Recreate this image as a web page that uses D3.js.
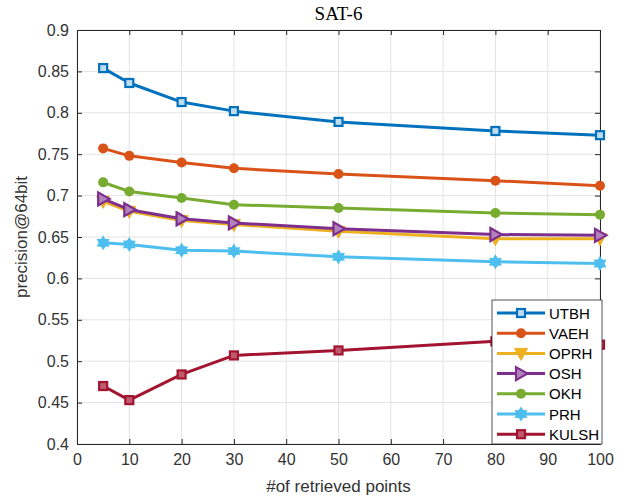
<!DOCTYPE html>
<html>
<head>
<meta charset="utf-8">
<script src="https://cdn.jsdelivr.net/npm/d3@7"></script>
<style>
  html, body { margin: 0; padding: 0; background: #fff; }
  svg { display: block; }
</style>
</head>
<body>
<div id="chart"></div>
<script>
// Retrieval precision on SAT-6 (64-bit codes) for several hashing methods
const retrieved = [5, 10, 20, 30, 50, 80, 100];
const utbh  = [0.854, 0.836, 0.813, 0.802, 0.789, 0.778, 0.773];
const vaeh  = [0.757, 0.748, 0.740, 0.733, 0.726, 0.718, 0.712];
const oprh  = [0.693, 0.681, 0.670, 0.665, 0.657, 0.648, 0.648];
const osh   = [0.696, 0.683, 0.672, 0.667, 0.660, 0.653, 0.652];
const okh   = [0.716, 0.705, 0.697, 0.689, 0.685, 0.679, 0.677];
const prh   = [0.643, 0.641, 0.634, 0.633, 0.626, 0.620, 0.618];
const kulsh = [0.470, 0.453, 0.484, 0.507, 0.513, 0.524, 0.520];
const xTicks = [0, 10, 20, 30, 40, 50, 60, 70, 80, 90, 100];
const yTicks = [0.4, 0.45, 0.5, 0.55, 0.6, 0.65, 0.7, 0.75, 0.8, 0.85, 0.9];

const series = [
  { name: "UTBH",  values: utbh,  color: "#0072BD", marker: "square" },
  { name: "VAEH",  values: vaeh,  color: "#D95319", marker: "circle" },
  { name: "OPRH",  values: oprh,  color: "#EDB120", marker: "triDown" },
  { name: "OSH",   values: osh,   color: "#7E2F8E", marker: "triRight" },
  { name: "OKH",   values: okh,   color: "#77AC30", marker: "circle" },
  { name: "PRH",   values: prh,   color: "#4DBEEE", marker: "hexagram" },
  { name: "KULSH", values: kulsh, color: "#A2142F", marker: "squareFilled" }
];

const W = 638, H = 498;
const m = { left: 77, right: 38, top: 30, bottom: 54 };
const svg = d3.select("#chart").append("svg").attr("width", W).attr("height", H);

const x = d3.scaleLinear().domain([0, 100]).range([m.left, W - m.right]);
const y = d3.scaleLinear().domain([0.4, 0.9]).range([H - m.bottom, m.top]);

const tickFont = "'Liberation Sans', Arial, Helvetica, sans-serif";

// grid
const grid = svg.append("g");
grid.selectAll("line.gx").data(xTicks).join("line")
  .attr("x1", d => x(d)).attr("x2", d => x(d))
  .attr("y1", y(0.4)).attr("y2", y(0.9))
  .attr("stroke", "#e3e3e3").attr("stroke-width", 1);
grid.selectAll("line.gy").data(yTicks).join("line")
  .attr("x1", x(0)).attr("x2", x(100))
  .attr("y1", d => y(d)).attr("y2", d => y(d))
  .attr("stroke", "#e3e3e3").attr("stroke-width", 1);

// axes (ticks pointing inward, box on all sides)
const axisColor = "#262626";
const styleAxis = g => {
  g.selectAll("path.domain").attr("stroke", axisColor);
  g.selectAll(".tick line").attr("stroke", axisColor);
  g.selectAll(".tick text").attr("fill", "#333")
    .style("font-family", tickFont).style("font-size", "16px");
};
svg.append("g").attr("transform", `translate(0,${y(0.4)})`)
  .call(d3.axisBottom(x).tickValues(xTicks).tickSizeInner(-5).tickSizeOuter(0).tickPadding(10).tickFormat(d3.format("d")))
  .call(styleAxis);
svg.append("g").attr("transform", `translate(0,${y(0.9)})`)
  .call(d3.axisTop(x).tickValues(xTicks).tickSizeInner(-5).tickSizeOuter(0).tickFormat(""))
  .call(styleAxis);
svg.append("g").attr("transform", `translate(${x(0)},0)`)
  .call(d3.axisLeft(y).tickValues(yTicks).tickSizeInner(-5).tickSizeOuter(0).tickPadding(8).tickFormat(d => d3.format("")(+d.toFixed(2))))
  .call(styleAxis);
svg.append("g").attr("transform", `translate(${x(100)},0)`)
  .call(d3.axisRight(y).tickValues(yTicks).tickSizeInner(-5).tickSizeOuter(0).tickFormat(""))
  .call(styleAxis);

// title and axis labels
svg.append("text").attr("x", (x(0) + x(100)) / 2).attr("y", 20)
  .attr("text-anchor", "middle").attr("fill", "#000")
  .style("font-family", "'Liberation Serif', 'Times New Roman', serif").style("font-size", "19px")
  .text("SAT-6");
svg.append("text").attr("x", (x(0) + x(100)) / 2).attr("y", 492)
  .attr("text-anchor", "middle").attr("fill", "#333")
  .style("font-family", tickFont).style("font-size", "17px")
  .text("#of retrieved points");
svg.append("text").attr("transform", `translate(27,${(y(0.4) + y(0.9)) / 2}) rotate(-90)`)
  .attr("text-anchor", "middle").attr("fill", "#333")
  .style("font-family", tickFont).style("font-size", "17px")
  .text("precision@64bit");

// marker drawing
function hexagramPath(r) {
  const pts = [];
  for (let i = 0; i < 12; i++) {
    const a = -Math.PI / 2 + i * Math.PI / 6;
    const rr = i % 2 === 0 ? r : r * 0.6;
    pts.push([rr * Math.cos(a), rr * Math.sin(a)]);
  }
  return "M" + pts.map(p => p.join(",")).join("L") + "Z";
}
function lighten(c, k) {
  return d3.interpolateRgb(d3.color(c), "#fff")(k);
}
function drawMarker(g, type, color, cx, cy) {
  const s = g.append("g").attr("transform", `translate(${cx},${cy})`);
  if (type === "square") {
    s.append("rect").attr("x", -4).attr("y", -4).attr("width", 8).attr("height", 8)
      .attr("fill", lighten(color, 0.75)).attr("stroke", color).attr("stroke-width", 2.2);
  } else if (type === "squareFilled") {
    s.append("rect").attr("x", -4).attr("y", -4).attr("width", 8).attr("height", 8)
      .attr("fill", lighten(color, 0.3)).attr("stroke", color).attr("stroke-width", 2.2);
  } else if (type === "circle") {
    s.append("circle").attr("r", 5).attr("fill", color);
  } else if (type === "triDown") {
    s.append("path").attr("d", "M-6.5,-5L6.5,-5L0,7Z").attr("fill", color).attr("stroke", color).attr("stroke-width", 1);
  } else if (type === "triRight") {
    s.append("path").attr("d", "M-5,-6.5L6.5,0L-5,6.5Z").attr("fill", lighten(color, 0.4))
      .attr("stroke", color).attr("stroke-width", 2.2).attr("stroke-linejoin", "miter");
  } else if (type === "hexagram") {
    s.append("path").attr("d", hexagramPath(7.5)).attr("fill", color);
  }
}

// series lines and markers
const line = d3.line().x((d, i) => x(retrieved[i])).y(d => y(d));
const plot = svg.append("g");
series.forEach(s => {
  plot.append("path").datum(s.values).attr("d", line)
    .attr("fill", "none").attr("stroke", s.color).attr("stroke-width", 3)
    .attr("stroke-linejoin", "round");
  s.values.forEach((v, i) => drawMarker(plot, s.marker, s.color, x(retrieved[i]), y(v)));
});

// legend
const lg = svg.append("g").attr("transform", "translate(492,300)");
lg.append("rect").attr("width", 110).attr("height", 144)
  .attr("fill", "#fff").attr("stroke", axisColor).attr("stroke-width", 0.8);
series.forEach((s, i) => {
  const cy = 13 + i * 20.2;
  lg.append("line").attr("x1", 5).attr("x2", 53).attr("y1", cy).attr("y2", cy)
    .attr("stroke", s.color).attr("stroke-width", 3);
  drawMarker(lg, s.marker, s.color, 29, cy);
  lg.append("text").attr("x", 57).attr("y", cy + 5.5).attr("fill", "#000")
    .style("font-family", tickFont).style("font-size", "15px").text(s.name);
});
</script>
</body>
</html>
